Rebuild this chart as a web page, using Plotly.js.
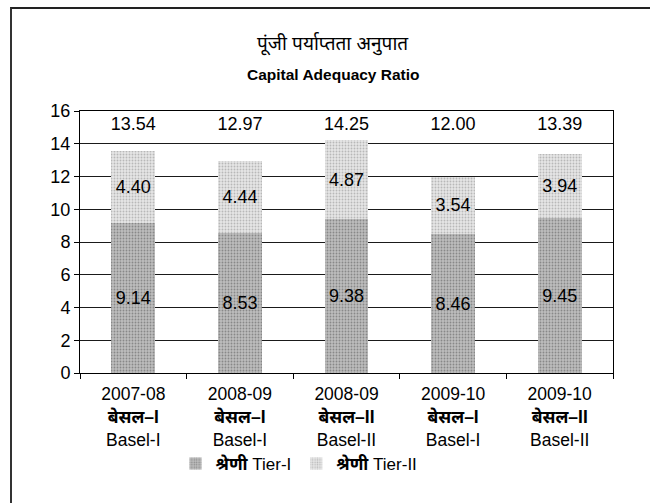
<!DOCTYPE html>
<html>
<head>
<meta charset="utf-8">
<script src="https://cdn.plot.ly/plotly-3.0.1.min.js"></script>
<style>
  html, body { margin: 0; padding: 0; background: #fff; overflow: hidden; }
  #wrap { position: relative; width: 650px; height: 503px; }
  #chart { position: absolute; left: 0; top: 0; width: 650px; height: 503px; }
  #frame { position: absolute; left: 10px; top: 7px; width: 700px; height: 600px;
           border-left: 2px solid #333; border-top: 2px solid #222; pointer-events: none; }
</style>
</head>
<body>
<div id="wrap">
  <div id="chart"></div>
  <div id="frame"></div>
</div>
<script>
// ---- data ----
const years = ["2007-08", "2008-09", "2008-09", "2009-10", "2009-10"];
const hindiLabels = ["बेसल–I", "बेसल–I", "बेसल–II", "बेसल–I", "बेसल–II"];
const baselLabels = ["Basel-I", "Basel-I", "Basel-II", "Basel-I", "Basel-II"];
const tier1 = [9.14, 8.53, 9.38, 8.46, 9.45];
const tier2 = [4.40, 4.44, 4.87, 3.54, 3.94];
const totals = [13.54, 12.97, 14.25, 12.00, 13.39];
const seriesNames = ["<b>श्रेणी</b> Tier-I", "<b>श्रेणी</b> Tier-II"];
const titleHindi = "पूंजी पर्याप्तता अनुपात";
const titleEnglish = "Capital Adequacy Ratio";

const cats = years.map((y, i) => "c" + i);
const tickText = years.map((y, i) => y + "<br><b>" + hindiLabels[i] + "</b><br>" + baselLabels[i]);

const FONT = "Liberation Sans, Arial, Noto Sans, sans-serif";
const TOTAL_ROW = 15.1; // height of the total labels row

const traces = [
  {
    type: "bar", name: seriesNames[0], x: cats, y: tier1,
    marker: { color: "#b0b0b0", line: { width: 0 },
              pattern: { shape: ".", fgcolor: "#888888", bgcolor: "#bdbdbd", size: 3, solidity: 0.3 } },
    text: tier1.map(v => v.toFixed(2)), textposition: "inside", insidetextanchor: "middle",
    textangle: 0, constraintext: "none",
    insidetextfont: { family: FONT, size: 18, color: "#000" }, hoverinfo: "skip"
  },
  {
    type: "bar", name: seriesNames[1], x: cats, y: tier2,
    marker: { color: "#dedede", line: { width: 0 },
              pattern: { shape: ".", fgcolor: "#b8b8b8", bgcolor: "#e6e6e6", size: 3, solidity: 0.3 } },
    text: tier2.map(v => v.toFixed(2)), textposition: "inside", insidetextanchor: "middle",
    textangle: 0, constraintext: "none",
    insidetextfont: { family: FONT, size: 18, color: "#000" }, hoverinfo: "skip"
  },
  {
    type: "scatter", mode: "text", x: cats, y: cats.map(() => TOTAL_ROW),
    text: totals.map(v => v.toFixed(2)), textposition: "middle center",
    textfont: { family: FONT, size: 18, color: "#000" },
    showlegend: false, cliponaxis: false, hoverinfo: "skip"
  }
];

const layout = {
  width: 650, height: 503,
  margin: { l: 80, r: 37, t: 111, b: 130 },
  paper_bgcolor: "#fff", plot_bgcolor: "#fff",
  font: { family: FONT, size: 18, color: "#000" },
  barmode: "stack", bargap: 0.59,
  showlegend: true,
  legend: { orientation: "h", traceorder: "normal", xref: "container", x: 0.46, xanchor: "center",
            yref: "container", y: 1 - 464 / 503, yanchor: "middle",
            font: { family: FONT, size: 17, color: "#000" }, itemwidth: 30, tracegroupgap: 0 },
  annotations: [
    { text: titleHindi, xref: "paper", yref: "paper", x: (333 - 80) / 533, y: (373 - 44) / 262,
      xanchor: "center", yanchor: "middle", showarrow: false,
      font: { family: FONT, size: 19, color: "#000" } },
    { text: "<b>" + titleEnglish + "</b>", xref: "paper", yref: "paper", x: (333 - 80) / 533, y: (373 - 74) / 262,
      xanchor: "center", yanchor: "middle", showarrow: false,
      font: { family: FONT, size: 15.5, color: "#000" } }
  ],
  xaxis: {
    type: "category", tickvals: cats, ticktext: tickText,
    ticks: "outside", tickson: "boundaries", ticklen: 5, tickcolor: "#000",
    ticklabelstandoff: 5,
    showline: true, linecolor: "#000", linewidth: 1, mirror: true,
    showgrid: false, tickfont: { family: FONT, size: 17.5, color: "#000" },
    fixedrange: true
  },
  yaxis: {
    range: [0, 16], dtick: 2, tick0: 0,
    ticks: "outside", ticklen: 5, tickcolor: "#000",
    showline: true, linecolor: "#000", linewidth: 1, mirror: true,
    showgrid: true, gridcolor: "#1a1a1a", gridwidth: 1,
    zeroline: false, tickfont: { family: FONT, size: 18, color: "#000" },
    fixedrange: true
  }
};

Plotly.newPlot("chart", traces, layout, { staticPlot: true, displayModeBar: false });
</script>
</body>
</html>
